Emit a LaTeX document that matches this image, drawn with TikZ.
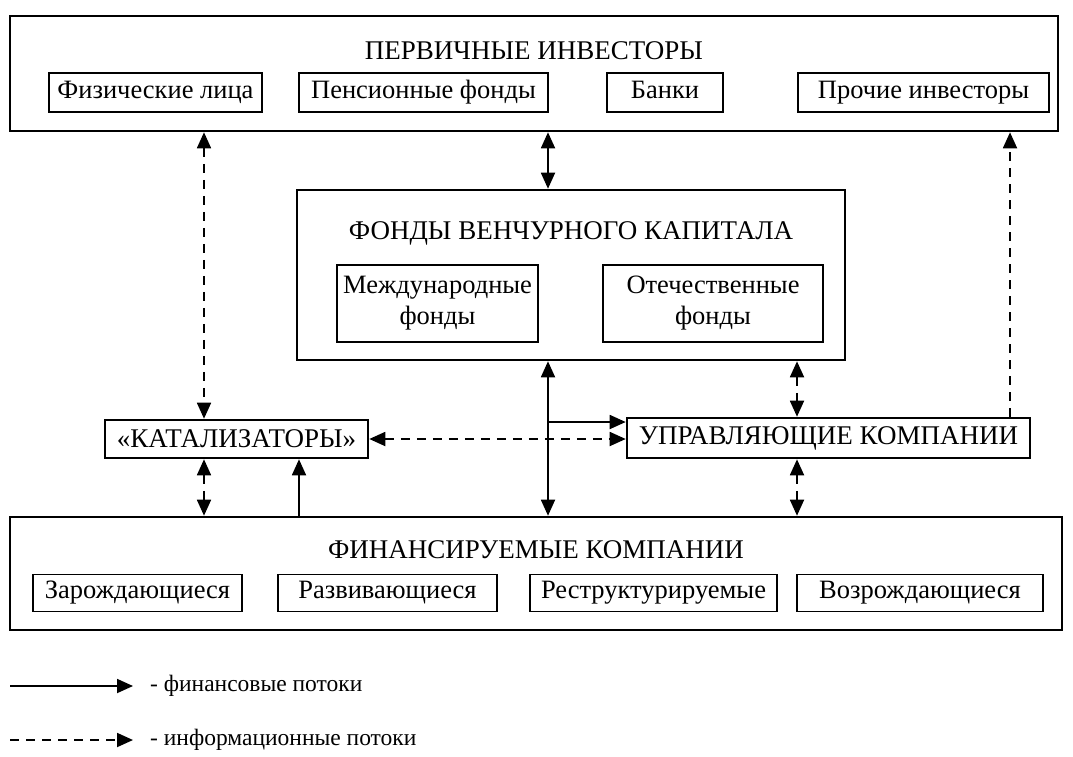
\documentclass[tikz,border=0pt]{standalone}
\usepackage{fontspec}
\setmainfont{Liberation Serif}
\usetikzlibrary{arrows.meta}
\tikzset{
  outer/.style={draw, line width=2.6pt, inner sep=0pt},
  inner/.style={draw, line width=1.6pt, inner sep=0pt, align=center, font=\fontsize{26.5}{31}\selectfont},
  one/.style={inner, text height=18.5pt, text depth=6.6pt},
  ttl/.style={inner sep=0pt, font=\fontsize{27}{29}\selectfont},
  fin/.style={line width=1.8pt, >={Triangle[length=16pt,width=14pt]}},
  inf/.style={line width=1.8pt, dash pattern=on 9pt off 7pt, >={Triangle[length=16pt,width=14pt]}},
  lgd/.style={inner sep=0pt, anchor=west, font=\fontsize{23.5}{25}\selectfont}
}
\begin{document}
\begin{tikzpicture}[x=1pt,y=-1pt]
\useasboundingbox (0,0) rectangle (1073,756);

% primary investors
\node[outer, minimum width=1048pt, minimum height=115pt] (top) at (534,73.5) {};
\node[ttl] (toptitle) at (534,51) {ПЕРВИЧНЫЕ ИНВЕСТОРЫ};
\node[one, minimum width=213pt, minimum height=39pt] (fiz) at (155.5,92.5) {Физические лица};
\node[one, minimum width=249pt, minimum height=39pt] (pens) at (423.5,92.5) {Пенсионные фонды};
\node[one, minimum width=116pt, minimum height=39pt] (bank) at (665,92.5) {Банки};
\node[one, minimum width=251pt, minimum height=39pt] (proch) at (923.5,92.5) {Прочие инвесторы};

% venture capital funds
\node[outer, minimum width=548pt, minimum height=170pt] (mid) at (571,275) {};
\node[ttl] (midtitle) at (571,233) {ФОНДЫ ВЕНЧУРНОГО КАПИТАЛА};
\node[inner, minimum width=201pt, minimum height=77pt] (mezh) at (437.5,303.5) {Международные\\фонды};
\node[inner, minimum width=220pt, minimum height=77pt] (oteh) at (713,303.5) {Отечественные\\фонды};

% catalysts and management companies
\node[outer, minimum width=263pt, minimum height=38pt, font=\fontsize{27}{29}\selectfont] (cat) at (236.5,439) {«КАТАЛИЗАТОРЫ»};
\node[outer, minimum width=403pt, minimum height=40pt, font=\fontsize{27}{29}\selectfont] (man) at (828.5,438) {УПРАВЛЯЮЩИЕ КОМПАНИИ};

% financed companies
\node[outer, minimum width=1052pt, minimum height=113pt] (bot) at (536,573.5) {};
\node[ttl] (bottitle) at (536,550) {ФИНАНСИРУЕМЫЕ КОМПАНИИ};
\node[one, minimum width=209pt, minimum height=37pt] (zar) at (137.5,593) {Зарождающиеся};
\node[one, minimum width=219pt, minimum height=37pt] (razv) at (387.5,593) {Развивающиеся};
\node[one, minimum width=247pt, minimum height=37pt] (restr) at (653.5,593) {Реструктурируемые};
\node[one, minimum width=246pt, minimum height=37pt] (vozr) at (920,593) {Возрождающиеся};

% vertical positions of connectors
\coordinate (xa) at (204,0);
\coordinate (xb) at (299,0);
\coordinate (xc) at (548,0);
\coordinate (xd) at (797,0);
\coordinate (xe) at (1010,0);
\coordinate (jn) at (548,422);

% financial flows
\draw[fin, <->] (top.south -| xc) -- (mid.north -| xc);
\draw[fin, <->] (mid.south -| xc) -- (bot.north -| xc);
\draw[fin, ->] (jn) -- (jn -| man.west);
\draw[fin, ->] (bot.north -| xb) -- (cat.south -| xb);

% information flows
\draw[inf, <->] (top.south -| xa) -- (cat.north -| xa);
\draw[inf, <->] (cat.south -| xa) -- (bot.north -| xa);
\draw[inf, <->] (cat.east) -- (cat.east -| man.west);
\draw[inf, <->] (mid.south -| xd) -- (man.north -| xd);
\draw[inf, <->] (man.south -| xd) -- (bot.north -| xd);
\draw[inf, ->] (man.north -| xe) -- (top.south -| xe);

% legend
\coordinate (la) at (10,686);
\coordinate (lb) at (133,686);
\coordinate (lc) at (10,740);
\coordinate (ld) at (133,740);
\draw[fin, ->] (la) -- (lb);
\draw[inf, ->] (lc) -- (ld);
\node[lgd] (lt1) at (150,686) {- финансовые потоки};
\node[lgd] (lt2) at (150,740) {- информационные потоки};
\end{tikzpicture}
\end{document}
